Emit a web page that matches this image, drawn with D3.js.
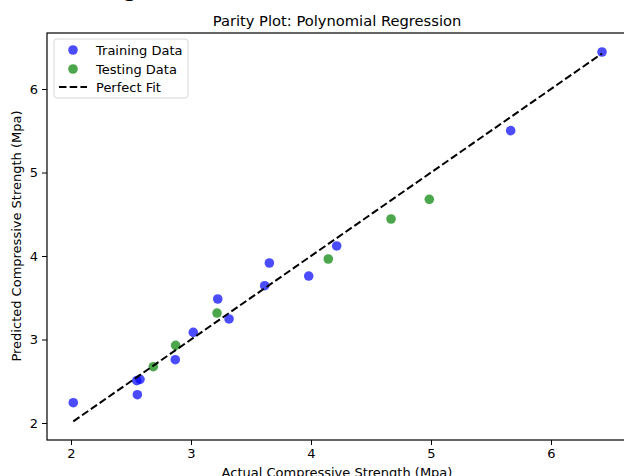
<!DOCTYPE html>
<html><head><meta charset="utf-8">
<script src="https://cdn.jsdelivr.net/npm/d3@7"></script>
<style>body{margin:0;background:#fff}svg{display:block;font-family:"DejaVu Sans",sans-serif}</style>
</head><body>
<svg id="c" width="624" height="476"></svg>
<script>
const trainActual = [2.019, 2.548, 2.575, 2.553, 2.869, 3.019, 3.223, 3.317, 3.614, 3.653, 3.981, 4.214, 5.664, 6.425];
const trainPred   = [2.243, 2.507, 2.523, 2.339, 2.758, 3.086, 3.485, 3.246, 3.644, 3.916, 3.760, 4.120, 5.501, 6.443];
const testActual  = [2.686, 2.872, 3.217, 4.144, 4.667, 4.986];
const testPred    = [2.674, 2.930, 3.317, 3.964, 4.443, 4.679];
const xTicks = [2, 3, 4, 5, 6];
const yTicks = [2, 3, 4, 5, 6];
const legendLabels = ["Training Data", "Testing Data", "Perfect Fit"];

const svg = d3.select("#c");
const L = 47, T = 33, B = 440;
const x = d3.scaleLinear().domain([2, 6]).range([71, 551]);
const y = d3.scaleLinear().domain([2, 6]).range([423, 89]);
const xR = x(6.64);

// clipped top remnant of surrounding document
svg.append("text").attr("x", 123).attr("y", -4).attr("font-family", "'Liberation Serif',serif").attr("font-size", 26).text("g");

const g = svg.append("g");
const xa = g.append("g").attr("transform", `translate(0,${B})`).call(d3.axisBottom(x).tickValues(xTicks).tickFormat(d3.format("d")).tickSize(5).tickPadding(4));
const ya = g.append("g").attr("transform", `translate(${L},0)`).call(d3.axisLeft(y).tickValues(yTicks).tickFormat(d3.format("d")).tickSize(5).tickPadding(4));
[xa, ya].forEach(a => { a.select(".domain").remove(); a.selectAll("text").attr("font-size", 13).attr("font-family", "'DejaVu Sans',sans-serif").attr("fill", "#000"); a.selectAll("line").attr("stroke", "#000").attr("stroke-width", 1); });

g.append("rect").attr("x", L).attr("y", T).attr("width", xR - L).attr("height", B - T).attr("fill", "none").attr("stroke", "#000").attr("stroke-width", 1.2);

const pts = g.append("g");
pts.selectAll(".tr").data(trainActual).join("circle").attr("cx", (d) => x(d)).attr("cy", (d, i) => y(trainPred[i])).attr("r", 4.8).attr("fill", "rgba(0,0,255,0.7)");
pts.selectAll(".te").data(testActual).join("circle").attr("cx", (d) => x(d)).attr("cy", (d, i) => y(testPred[i])).attr("r", 4.8).attr("fill", "rgba(0,128,0,0.7)");

const all = trainActual.concat(testActual);
const mn = d3.min(all), mx = d3.max(all);
pts.append("path").attr("d", d3.line().x(d => x(d)).y(d => y(d))([mn, mx])).attr("stroke", "#000").attr("stroke-width", 2).attr("stroke-dasharray", "7.5,3.2").attr("fill", "none");

svg.append("text").attr("x", 337).attr("y", 26).attr("text-anchor", "middle").attr("font-size", 14.7).text("Parity Plot: Polynomial Regression");
svg.append("text").attr("x", 337).attr("y", 477).attr("text-anchor", "middle").attr("font-size", 13).text("Actual Compressive Strength (Mpa)");
svg.append("text").attr("transform", `translate(21,236) rotate(-90)`).attr("text-anchor", "middle").attr("font-size", 13).text("Predicted Compressive Strength (Mpa)");

const lg = svg.append("g").attr("transform", "translate(54,39)");
lg.append("rect").attr("width", 134).attr("height", 59).attr("rx", 3).attr("fill", "rgba(255,255,255,0.8)").attr("stroke", "#d6d6d6");
const rows = [11, 30, 48];
lg.append("circle").attr("cx", 19).attr("cy", rows[0]).attr("r", 4.8).attr("fill", "rgba(0,0,255,0.7)");
lg.append("circle").attr("cx", 19).attr("cy", rows[1]).attr("r", 4.8).attr("fill", "rgba(0,128,0,0.7)");
lg.append("line").attr("x1", 5).attr("x2", 33).attr("y1", rows[2]).attr("y2", rows[2]).attr("stroke", "#000").attr("stroke-width", 2).attr("stroke-dasharray", "7.5,3.2");
lg.selectAll(".lt").data(legendLabels).join("text").attr("x", 42).attr("y", (d, i) => rows[i] + 4.5).attr("font-size", 13).text(d => d);
</script>
</body></html>
